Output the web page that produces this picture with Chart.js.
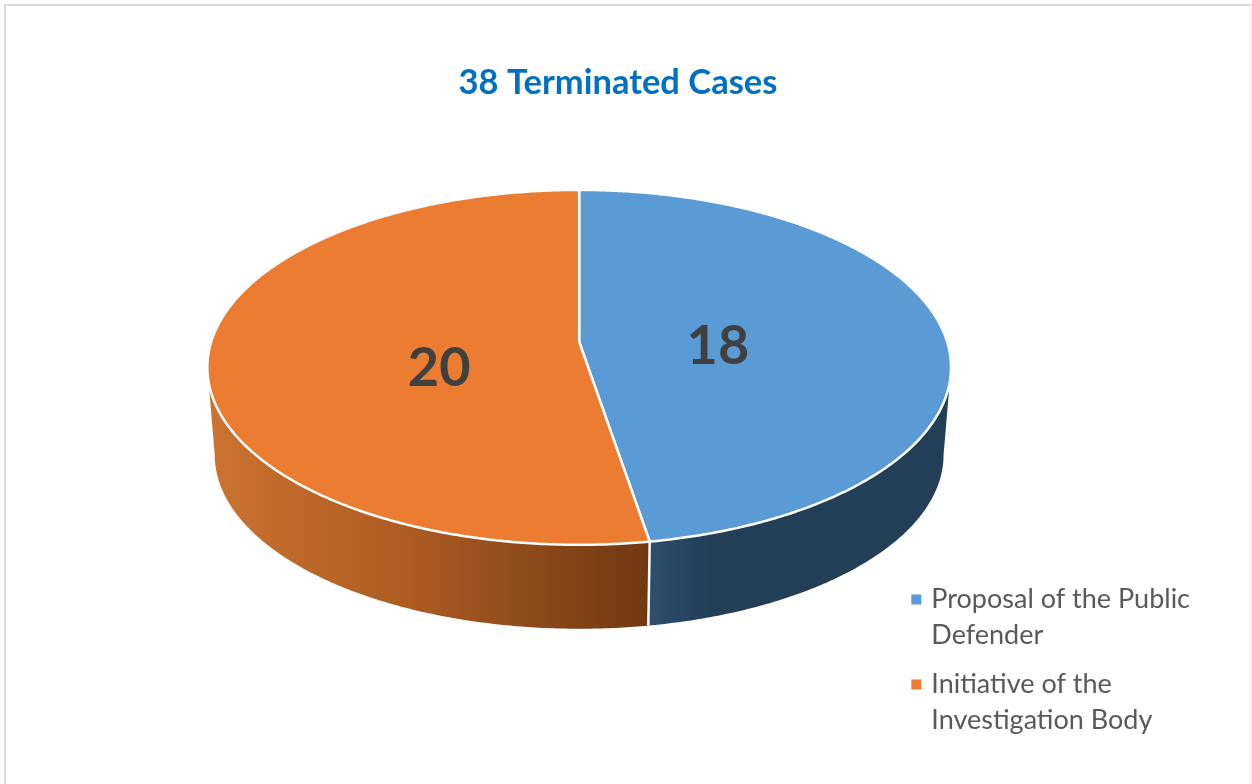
<!DOCTYPE html>
<html>
<head>
<meta charset="utf-8">
<title>38 Terminated Cases</title>
<script src="https://cdn.jsdelivr.net/npm/chart.js@4/dist/chart.umd.min.js"></script>
<style>
    html, body { margin: 0; padding: 0; background: #fff; }
    #wrap { position: relative; width: 1252px; height: 784px; overflow: hidden; }
    #frame { position: absolute; left: 4px; top: 4px; width: 1248px; height: 790px; box-sizing: border-box;
             border-left: 2px solid #dcdcdc; border-top: 2px solid #dcdcdc; border-right: 2px solid #f0f0f0; }
    #graphCanvas { position: absolute; left: 0; top: 0; }
</style>
</head>
<body>
<div id="wrap">
    <div id="frame"></div>
    <canvas id="graphCanvas" width="1252" height="784"></canvas>
</div>
<script>
var titleText = '38 Terminated Cases';
var categories = [['Proposal of the Public', 'Defender'], ['Initiative of the', 'Investigation Body']];
var caseCounts = [18, 20];
var faceColors = ['#5b9bd5', '#eb7c31'];
// wall shading left to right, per slice
var wallColors = [
    ['#2d4e6e', '#233f58', '#233f58'],
    ['#cc7330', '#ad5c22', '#703812']
];

// look of the tilted disc
var pieOffset = { x: 110.25, y: -97.8 };
var radiusX = 368, radiusY = 173.8, perspective = -0.1435;
var wallDrop = 88, wallScale = 0.98;
var labelRadius = 0.38, labelShiftY = [10, 21];

function project(arc, angle, r, drop, scale) {
    var u = Math.cos(angle) * r;
    var v = Math.sin(angle) * r;
    var d = 1 + perspective * v;
    return {
        x: arc.x + pieOffset.x + radiusX * scale * u / d,
        y: arc.y + pieOffset.y + drop + radiusY * scale * v / d
    };
}

function rimPoints(arc, from, to, drop, scale) {
    var pts = [];
    var steps = Math.max(2, Math.ceil(Math.abs(to - from) / (Math.PI / 360)));
    for (var i = 0; i <= steps; i++) {
        pts.push(project(arc, from + (to - from) * i / steps, 1, drop, scale));
    }
    return pts;
}

var tiltedPie = {
    id: 'tiltedPie',
    beforeDatasetsDraw: function (chart) {
        var ctx = chart.ctx;
        var arcs = chart.getDatasetMeta(0).data;
        // the wall is only seen between the two widest points of the rim
        var lo = Math.asin(-perspective), hi = Math.PI - lo;

        ctx.save();
        // side walls first
        arcs.forEach(function (arc, i) {
            var from = Math.max(arc.startAngle, lo), to = Math.min(arc.endAngle, hi);
            if (to <= from) return;
            var top = rimPoints(arc, from, to, 0, 1);
            var bottom = rimPoints(arc, from, to, wallDrop, wallScale).reverse();
            var all = top.concat(bottom);
            var xs = all.map(function (p) { return p.x; });
            var grad = ctx.createLinearGradient(Math.min.apply(null, xs), 0, Math.max.apply(null, xs), 0);
            grad.addColorStop(0, wallColors[i][0]);
            grad.addColorStop(i === 0 ? 0.2 : 0.45, wallColors[i][1]);
            grad.addColorStop(1, wallColors[i][2]);
            ctx.beginPath();
            all.forEach(function (p, n) { n ? ctx.lineTo(p.x, p.y) : ctx.moveTo(p.x, p.y); });
            ctx.closePath();
            ctx.fillStyle = grad;
            ctx.fill();
        });
        // white seam on the wall where the slices meet
        arcs.forEach(function (arc) {
            if (arc.endAngle < lo || arc.endAngle > hi) return;
            var a = project(arc, arc.endAngle, 1, 0, 1);
            var b = project(arc, arc.endAngle, 1, wallDrop, wallScale);
            ctx.beginPath();
            ctx.moveTo(a.x, a.y);
            ctx.lineTo(b.x, b.y);
            ctx.strokeStyle = '#fff';
            ctx.lineWidth = 2.5;
            ctx.stroke();
        });
        // top face
        arcs.forEach(function (arc, i) {
            var c = project(arc, 0, 0, 0, 1);
            ctx.beginPath();
            ctx.moveTo(c.x, c.y);
            rimPoints(arc, arc.startAngle, arc.endAngle, 0, 1).forEach(function (p) { ctx.lineTo(p.x, p.y); });
            ctx.closePath();
            ctx.fillStyle = faceColors[i];
            ctx.fill();
            ctx.strokeStyle = '#fff';
            ctx.lineWidth = 2.5;
            ctx.lineJoin = 'round';
            ctx.stroke();
        });
        // value labels
        ctx.font = 'bold 54px Lato';
        ctx.fillStyle = '#404040';
        ctx.textAlign = 'center';
        ctx.textBaseline = 'middle';
        arcs.forEach(function (arc, i) {
            var mid = project(arc, (arc.startAngle + arc.endAngle) / 2, labelRadius, 0, 1);
            ctx.fillText(String(caseCounts[i]), mid.x, mid.y + labelShiftY[i]);
        });
        ctx.restore();
        return false;
    }
};

var chartdata = {
    labels: categories,
    datasets: [
        {
            label: titleText,
            backgroundColor: faceColors,
            // only used by the legend swatch, the faces are painted by tiltedPie
            borderColor: faceColors,
            borderWidth: 7,
            data: caseCounts
        }
    ]
};

var pieChart = new Chart(document.getElementById('graphCanvas'), {
    type: 'pie',
    data: chartdata,
    plugins: [tiltedPie],
    options: {
        responsive: false,
        animation: false,
        layout: { padding: { left: 36, right: 52, top: 0, bottom: 28 } },
        plugins: {
            tooltip: { enabled: false },
            title: {
                display: true,
                text: titleText,
                color: '#0070c0',
                font: { family: 'Lato', size: 34.5, weight: 'bold', lineHeight: 1.2 },
                padding: { top: 62, bottom: 20 }
            },
            legend: {
                position: 'right',
                align: 'end',
                labels: {
                    color: '#595959',
                    boxWidth: 3,
                    boxHeight: 3,
                    padding: 13,
                    font: { family: 'Lato', size: 27, lineHeight: 1.333 }
                }
            }
        }
    }
});
</script>
</body>
</html>
